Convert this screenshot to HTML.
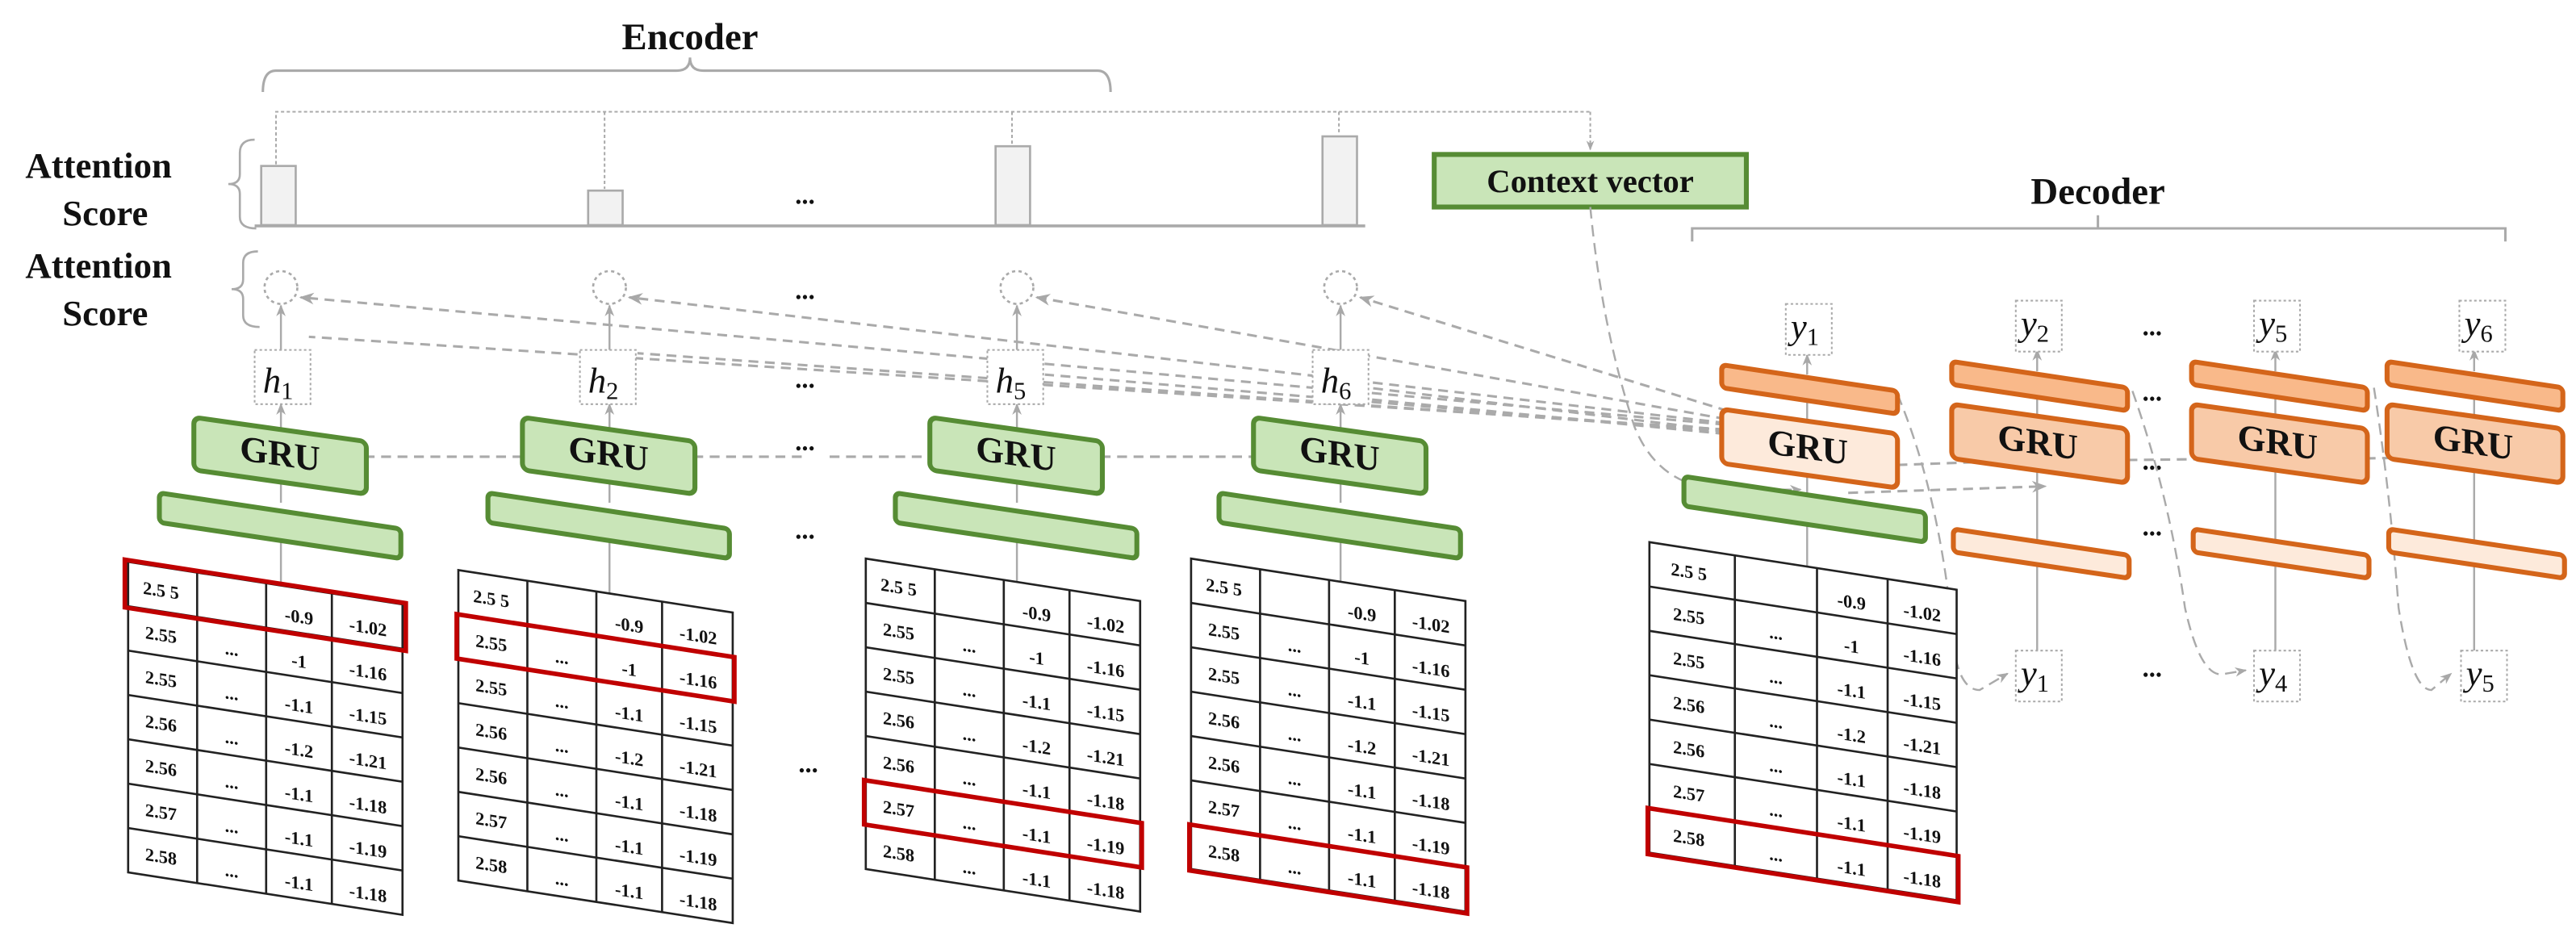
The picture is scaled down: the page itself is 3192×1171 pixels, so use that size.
<!DOCTYPE html>
<html><head><meta charset="utf-8"><style>
html,body{margin:0;padding:0;background:#fff;}
svg{display:block;}
text{font-family:"Liberation Serif",serif;}
.b{font-weight:bold;fill:#111;}
.t{font-weight:bold;font-size:11px;fill:#111;text-anchor:middle;}
</style></head><body>
<svg width="3192" height="1171" viewBox="0 0 1568 575.2" xmlns="http://www.w3.org/2000/svg">
<defs>
<marker id="a" viewBox="0 0 10 10" refX="9" refY="5" markerWidth="6" markerHeight="6" orient="auto-start-reverse"><path d="M0,1 L10,5 L0,9 L3,5 Z" fill="#a8a8a8"/></marker>
<g id="tbl">
  <rect x="0" y="0" width="167" height="189" fill="#fff" stroke="#222" stroke-width="1.3"/>
  <g stroke="#222" stroke-width="1.3">
   <line x1="42" y1="0" x2="42" y2="189"/><line x1="84" y1="0" x2="84" y2="189"/><line x1="124" y1="0" x2="124" y2="189"/>
   <line x1="0" y1="27" x2="167" y2="27"/><line x1="0" y1="54" x2="167" y2="54"/><line x1="0" y1="81" x2="167" y2="81"/>
   <line x1="0" y1="108" x2="167" y2="108"/><line x1="0" y1="135" x2="167" y2="135"/><line x1="0" y1="162" x2="167" y2="162"/>
  </g>
  <g class="t">
   <text x="20" y="18">2.5 5</text><text x="104" y="21">-0.9</text><text x="146" y="21">-1.02</text>
   <text x="20" y="45">2.55</text><text x="63" y="47">...</text><text x="104" y="48">-1</text><text x="146" y="48">-1.16</text>
   <text x="20" y="72">2.55</text><text x="63" y="74">...</text><text x="104" y="75">-1.1</text><text x="146" y="75">-1.15</text>
   <text x="20" y="99">2.56</text><text x="63" y="101">...</text><text x="104" y="102">-1.2</text><text x="146" y="102">-1.21</text>
   <text x="20" y="126">2.56</text><text x="63" y="128">...</text><text x="104" y="129">-1.1</text><text x="146" y="129">-1.18</text>
   <text x="20" y="153">2.57</text><text x="63" y="155">...</text><text x="104" y="156">-1.1</text><text x="146" y="156">-1.19</text>
   <text x="20" y="180">2.58</text><text x="63" y="182">...</text><text x="104" y="183">-1.1</text><text x="146" y="183">-1.18</text>
  </g>
</g>
<g id="tbl2">
  <rect x="0" y="0" width="187" height="189" fill="#fff" stroke="#222" stroke-width="1.3"/>
  <g stroke="#222" stroke-width="1.3">
   <line x1="52" y1="0" x2="52" y2="189"/><line x1="102" y1="0" x2="102" y2="189"/><line x1="145" y1="0" x2="145" y2="189"/>
   <line x1="0" y1="27" x2="187" y2="27"/><line x1="0" y1="54" x2="187" y2="54"/><line x1="0" y1="81" x2="187" y2="81"/>
   <line x1="0" y1="108" x2="187" y2="108"/><line x1="0" y1="135" x2="187" y2="135"/><line x1="0" y1="162" x2="187" y2="162"/>
  </g>
  <g class="t">
   <text x="24" y="18">2.5 5</text><text x="123" y="21">-0.9</text><text x="166" y="21">-1.02</text>
   <text x="24" y="45">2.55</text><text x="77" y="47">...</text><text x="123" y="48">-1</text><text x="166" y="48">-1.16</text>
   <text x="24" y="72">2.55</text><text x="77" y="74">...</text><text x="123" y="75">-1.1</text><text x="166" y="75">-1.15</text>
   <text x="24" y="99">2.56</text><text x="77" y="101">...</text><text x="123" y="102">-1.2</text><text x="166" y="102">-1.21</text>
   <text x="24" y="126">2.56</text><text x="77" y="128">...</text><text x="123" y="129">-1.1</text><text x="166" y="129">-1.18</text>
   <text x="24" y="153">2.57</text><text x="77" y="155">...</text><text x="123" y="156">-1.1</text><text x="166" y="156">-1.19</text>
   <text x="24" y="180">2.58</text><text x="77" y="182">...</text><text x="123" y="183">-1.1</text><text x="166" y="183">-1.18</text>
  </g>
</g>
</defs>

<text x="420" y="30" class="b" font-size="23" text-anchor="middle">Encoder</text>
<path d="M160,56 Q160,43 168,43 L412,43 Q420,43 420,35 Q420,43 428,43 L668,43 Q676,43 676,56" fill="none" stroke="#aaa" stroke-width="1.5"/>

<g class="b" font-size="22" text-anchor="middle">
<text x="60" y="108">Attention</text><text x="64" y="137">Score</text>
<text x="60" y="169">Attention</text><text x="64" y="198">Score</text>
</g>
<path d="M155,85 Q146,85 146,93 L146,106 Q146,112 139,112 Q146,112 146,118 L146,132 Q146,139 156,139" fill="none" stroke="#aaa" stroke-width="1.3"/>
<path d="M157,153 Q148,153 148,160 L148,170 Q148,176 141,176 Q148,176 148,182 L148,192 Q148,199 158,199" fill="none" stroke="#aaa" stroke-width="1.3"/>

<g stroke="#aaa" stroke-width="1" stroke-dasharray="2,1.5" fill="none">
<path d="M168,100 L168,68 L968,68"/>
<line x1="368" y1="68" x2="368" y2="115"/>
<line x1="616" y1="68" x2="616" y2="88"/>
<line x1="815" y1="68" x2="815" y2="82"/>
<line x1="968" y1="68" x2="968" y2="91" marker-end="url(#a)"/>
</g>
<g fill="#f2f2f2" stroke="#aaa" stroke-width="1.3">
<rect x="159" y="101" width="21" height="36"/>
<rect x="358" y="116" width="21" height="21"/>
<rect x="606" y="89" width="21" height="48"/>
<rect x="805" y="83" width="21" height="54"/>
</g>
<line x1="155" y1="137.5" x2="831" y2="137.5" stroke="#aaa" stroke-width="1.8"/>

<g class="b" font-size="16" text-anchor="middle">
<text x="490" y="124">...</text><text x="490" y="182">...</text><text x="490" y="236">...</text><text x="490" y="274">...</text><text x="490" y="328">...</text><text x="492" y="470">...</text>
<text x="1310" y="204">...</text><text x="1310" y="244">...</text><text x="1310" y="286">...</text><text x="1310" y="326">...</text><text x="1310" y="412">...</text>
</g>

<rect x="873" y="94" width="190" height="32" fill="#c9e5b8" stroke="#568c34" stroke-width="3"/>
<text x="968" y="117" class="b" font-size="20" text-anchor="middle">Context vector</text>

<text x="1277" y="124" class="b" font-size="23" text-anchor="middle">Decoder</text>
<path d="M1030,147 L1030,139 L1525,139 L1525,147 M1277,139 L1277,131" fill="none" stroke="#aaa" stroke-width="1.5"/>

<g fill="none" stroke="#aaa" stroke-width="1.3" stroke-dasharray="2,2">
<circle cx="171" cy="175" r="10"/><circle cx="371" cy="175" r="10"/><circle cx="619" cy="175" r="10"/><circle cx="816" cy="175" r="10"/>
</g>

<g stroke="#aaa" stroke-width="1.5" stroke-dasharray="6,4" fill="none">
<line x1="1090" y1="262" x2="183" y2="181" marker-end="url(#a)"/>
<line x1="1090" y1="262" x2="383" y2="181" marker-end="url(#a)"/>
<line x1="1090" y1="262" x2="631" y2="181" marker-end="url(#a)"/>
<line x1="1090" y1="262" x2="828" y2="181" marker-end="url(#a)"/>
<line x1="1090" y1="264" x2="188" y2="205"/>
<line x1="1090" y1="265" x2="388" y2="215"/>
<line x1="1090" y1="266" x2="636" y2="228"/>
<line x1="1090" y1="267" x2="833" y2="236"/>
<line x1="1090" y1="268" x2="833" y2="243"/>
<line x1="222" y1="278" x2="368" y2="278" marker-end="url(#a)"/>
<line x1="422" y1="278" x2="490" y2="278"/>
<line x1="505" y1="278" x2="616" y2="278" marker-end="url(#a)"/>
<line x1="670" y1="278" x2="813" y2="278" marker-end="url(#a)"/>
<line x1="1155" y1="283" x2="1240" y2="280" marker-end="url(#a)"/>
<line x1="1295" y1="280" x2="1383" y2="279" marker-end="url(#a)"/>
<line x1="1440" y1="279" x2="1505" y2="278" marker-end="url(#a)"/>
<line x1="1125" y1="300" x2="1245" y2="296" marker-end="url(#a)"/>
</g>
<g stroke="#aaa" stroke-width="1.2" stroke-dasharray="7,4" fill="none">
<path d="M968,126 Q975,200 995,260 Q1010,297 1050,298 L1096,298" marker-end="url(#a)"/>
<path d="M1155,240 Q1180,300 1188,380 Q1190,420 1205,420 L1222,410" marker-end="url(#a)"/>
<path d="M1298,238 Q1320,300 1330,370 Q1340,415 1355,410 L1367,408" marker-end="url(#a)"/>
<path d="M1445,236 Q1455,300 1460,370 Q1468,420 1480,420 L1492,410" marker-end="url(#a)"/>
</g>

<g stroke="#aaa" stroke-width="1.2" fill="none">
<line x1="171" y1="360" x2="171" y2="312" marker-end="url(#a)"/><line x1="171" y1="306" x2="171" y2="286" marker-end="url(#a)"/><line x1="171" y1="264" x2="171" y2="246" marker-end="url(#a)"/><line x1="171" y1="213" x2="171" y2="186" marker-end="url(#a)"/>
<line x1="371" y1="365" x2="371" y2="312" marker-end="url(#a)"/><line x1="371" y1="306" x2="371" y2="286" marker-end="url(#a)"/><line x1="371" y1="264" x2="371" y2="246" marker-end="url(#a)"/><line x1="371" y1="213" x2="371" y2="186" marker-end="url(#a)"/>
<line x1="619" y1="360" x2="619" y2="312" marker-end="url(#a)"/><line x1="619" y1="306" x2="619" y2="286" marker-end="url(#a)"/><line x1="619" y1="264" x2="619" y2="246" marker-end="url(#a)"/><line x1="619" y1="213" x2="619" y2="186" marker-end="url(#a)"/>
<line x1="816" y1="360" x2="816" y2="312" marker-end="url(#a)"/><line x1="816" y1="306" x2="816" y2="286" marker-end="url(#a)"/><line x1="816" y1="264" x2="816" y2="246" marker-end="url(#a)"/><line x1="816" y1="213" x2="816" y2="186" marker-end="url(#a)"/>
<line x1="1100" y1="350" x2="1100" y2="303" marker-end="url(#a)"/><line x1="1100" y1="300" x2="1100" y2="260" marker-end="url(#a)"/><line x1="1100" y1="256" x2="1100" y2="232" marker-end="url(#a)"/><line x1="1100" y1="228" x2="1100" y2="216" marker-end="url(#a)"/>
<line x1="1240" y1="396" x2="1240" y2="335" marker-end="url(#a)"/><line x1="1240" y1="330" x2="1240" y2="258" marker-end="url(#a)"/><line x1="1240" y1="256" x2="1240" y2="232" marker-end="url(#a)"/><line x1="1240" y1="226" x2="1240" y2="213" marker-end="url(#a)"/>
<line x1="1385" y1="396" x2="1385" y2="335" marker-end="url(#a)"/><line x1="1385" y1="330" x2="1385" y2="258" marker-end="url(#a)"/><line x1="1385" y1="256" x2="1385" y2="232" marker-end="url(#a)"/><line x1="1385" y1="226" x2="1385" y2="213" marker-end="url(#a)"/>
<line x1="1506" y1="396" x2="1506" y2="335" marker-end="url(#a)"/><line x1="1506" y1="330" x2="1506" y2="258" marker-end="url(#a)"/><line x1="1506" y1="256" x2="1506" y2="232" marker-end="url(#a)"/><line x1="1506" y1="226" x2="1506" y2="213" marker-end="url(#a)"/>
</g>

<g fill="#fff" stroke="#aaa" stroke-width="1" stroke-dasharray="1.5,1.5">
<rect x="155" y="213" width="34" height="33"/><rect x="353" y="213" width="34" height="33"/><rect x="601" y="213" width="34" height="33"/><rect x="799" y="213" width="34" height="33"/>
<rect x="1087" y="185" width="28" height="31"/><rect x="1227" y="183" width="28" height="31"/><rect x="1372" y="183" width="28" height="31"/><rect x="1497" y="183" width="28" height="31"/>
<rect x="1227" y="396" width="28" height="31"/><rect x="1372" y="396" width="28" height="31"/><rect x="1498" y="396" width="28" height="31"/>
</g>
<g font-size="22" font-style="italic" fill="#111" font-family="Liberation Serif,serif">
<text x="160" y="239">h<tspan font-style="normal" font-size="15" dy="4">1</tspan></text>
<text x="358" y="239">h<tspan font-style="normal" font-size="15" dy="4">2</tspan></text>
<text x="606" y="239">h<tspan font-style="normal" font-size="15" dy="4">5</tspan></text>
<text x="804" y="239">h<tspan font-style="normal" font-size="15" dy="4">6</tspan></text>
<text x="1090" y="206">y<tspan font-style="normal" font-size="15" dy="4">1</tspan></text>
<text x="1230" y="204">y<tspan font-style="normal" font-size="15" dy="4">2</tspan></text>
<text x="1375" y="204">y<tspan font-style="normal" font-size="15" dy="4">5</tspan></text>
<text x="1500" y="204">y<tspan font-style="normal" font-size="15" dy="4">6</tspan></text>
<text x="1230" y="417">y<tspan font-style="normal" font-size="15" dy="4">1</tspan></text>
<text x="1375" y="417">y<tspan font-style="normal" font-size="15" dy="4">4</tspan></text>
<text x="1501" y="417">y<tspan font-style="normal" font-size="15" dy="4">5</tspan></text>
</g>

<g fill="#c9e5b8" stroke="#568c34" stroke-width="3">
<rect x="0" y="0" width="105" height="32" rx="4" transform="translate(118,254) skewY(8)"/>
<rect x="0" y="0" width="105" height="32" rx="4" transform="translate(318,254) skewY(8)"/>
<rect x="0" y="0" width="105" height="32" rx="4" transform="translate(566,254) skewY(8)"/>
<rect x="0" y="0" width="105" height="32" rx="4" transform="translate(763,254) skewY(8)"/>
<rect x="0" y="0" width="147" height="18" rx="3" transform="translate(97,300) skewY(8.5)"/>
<rect x="0" y="0" width="147" height="18" rx="3" transform="translate(297,300) skewY(8.5)"/>
<rect x="0" y="0" width="147" height="18" rx="3" transform="translate(545,300) skewY(8.5)"/>
<rect x="0" y="0" width="147" height="18" rx="3" transform="translate(742,300) skewY(8.5)"/>
<rect x="0" y="0" width="147" height="18" rx="3" transform="translate(1025,290) skewY(8.5)"/>
</g>
<g stroke="#d4651a" stroke-width="3">
<rect fill="#f9b98a" x="0" y="0" width="107" height="14" rx="3" transform="translate(1048,222) skewY(8.5)"/>
<rect fill="#f9b98a" x="0" y="0" width="107" height="14" rx="3" transform="translate(1188,220) skewY(8.5)"/>
<rect fill="#f9b98a" x="0" y="0" width="107" height="14" rx="3" transform="translate(1334,220) skewY(8.5)"/>
<rect fill="#f9b98a" x="0" y="0" width="107" height="14" rx="3" transform="translate(1453,220) skewY(8.5)"/>
<rect fill="#fdeadb" x="0" y="0" width="107" height="33" rx="4" transform="translate(1048,249) skewY(8)"/>
<rect fill="#f8caa8" x="0" y="0" width="107" height="33" rx="4" transform="translate(1188,246) skewY(8)"/>
<rect fill="#f8caa8" x="0" y="0" width="107" height="33" rx="4" transform="translate(1334,246) skewY(8)"/>
<rect fill="#f8caa8" x="0" y="0" width="107" height="33" rx="4" transform="translate(1453,246) skewY(8)"/>
<rect fill="#fdeadb" x="0" y="0" width="107" height="14" rx="3" transform="translate(1189,322) skewY(8.5)"/>
<rect fill="#fdeadb" x="0" y="0" width="107" height="14" rx="3" transform="translate(1335,322) skewY(8.5)"/>
<rect fill="#fdeadb" x="0" y="0" width="107" height="14" rx="3" transform="translate(1454,322) skewY(8.5)"/>
</g>
<g class="b" font-size="22">
<text transform="translate(146,280) skewY(8)">GRU</text>
<text transform="translate(346,280) skewY(8)">GRU</text>
<text transform="translate(594,280) skewY(8)">GRU</text>
<text transform="translate(791,280) skewY(8)">GRU</text>
<text transform="translate(1076,276) skewY(8)">GRU</text>
<text transform="translate(1216,273) skewY(8)">GRU</text>
<text transform="translate(1362,273) skewY(8)">GRU</text>
<text transform="translate(1481,273) skewY(8)">GRU</text>
</g>

<use href="#tbl" transform="translate(78,342) skewY(8.8)"/>
<use href="#tbl" transform="translate(279,347) skewY(8.8)"/>
<use href="#tbl" transform="translate(527,340) skewY(8.8)"/>
<use href="#tbl" transform="translate(725,340) skewY(8.8)"/>
<use href="#tbl2" transform="translate(1004,330) skewY(8.8)"/>
<g fill="none" stroke="#c00000" stroke-width="2.8">
<rect x="-2" y="-1" width="171" height="29" transform="translate(78,342) skewY(8.8)"/>
<rect x="-1" y="27" width="169" height="27" transform="translate(279,347) skewY(8.8)"/>
<rect x="-1" y="135" width="169" height="27" transform="translate(527,340) skewY(8.8)"/>
<rect x="-1" y="162" width="169" height="28" transform="translate(725,340) skewY(8.8)"/>
<rect x="-1" y="162" width="189" height="28" transform="translate(1004,330) skewY(8.8)"/>
</g>
</svg>
</body></html>
